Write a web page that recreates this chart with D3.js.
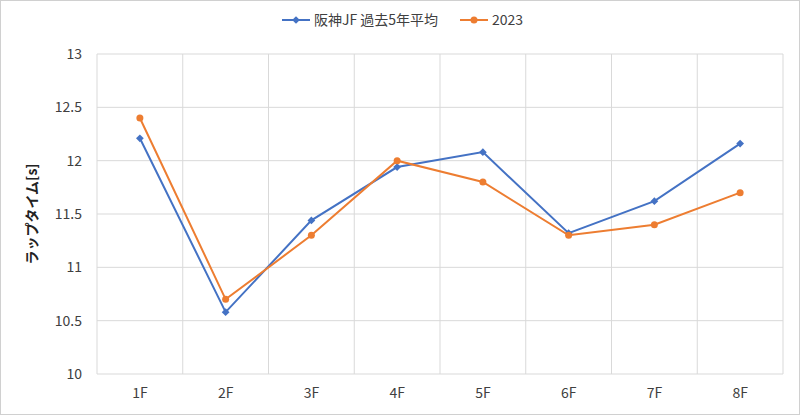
<!DOCTYPE html><html><head><meta charset="utf-8"><script src="https://d3js.org/d3.v7.min.js"></script>
<style>body{margin:0}</style></head><body><svg width="800" height="415"></svg><script>
const categories=["1F","2F","3F","4F","5F","6F","7F","8F"];
const avg=[12.21,10.58,11.44,11.94,12.08,11.32,11.62,12.16];
const y2023=[12.4,10.7,11.3,12.0,11.8,11.3,11.4,11.7];
const yTicks=[10,10.5,11,11.5,12,12.5,13];
const names=["阪神JF 過去5年平均","2023"];
const colors=["#4472c4","#ed7d31"];
const svg=d3.select("svg");
const font="'Noto Sans CJK JP','Noto Sans',sans-serif";
svg.append("rect").attr("x",0.5).attr("y",0.5).attr("width",799).attr("height",414).attr("fill","#fff").attr("stroke","#d0d0d0");
const x=d3.scaleBand().domain(categories).range([97,783]);
const y=d3.scaleLinear().domain([10,13]).range([374,54]);
const g=svg.append("g");
g.selectAll(".h").data(yTicks).join("line").attr("x1",97).attr("x2",783).attr("y1",d=>y(d)).attr("y2",d=>y(d)).attr("stroke","#d9d9d9");
g.selectAll(".v").data(categories.slice(1)).join("line").attr("x1",d=>x(d)).attr("x2",d=>x(d)).attr("y1",54).attr("y2",374).attr("stroke","#d9d9d9");
g.append("line").attr("x1",783).attr("x2",783).attr("y1",54).attr("y2",374).attr("stroke","#d9d9d9");
g.append("line").attr("x1",97).attr("x2",97).attr("y1",54).attr("y2",374).attr("stroke","#d9d9d9");
g.selectAll(".yl").data(yTicks).join("text").attr("x",82).attr("y",d=>y(d)+5).attr("text-anchor","end").attr("font-size",14).attr("font-family",font).attr("fill","#404040").text(d=>d);
g.selectAll(".xl").data(categories).join("text").attr("x",d=>x(d)+x.bandwidth()/2).attr("y",398).attr("text-anchor","middle").attr("font-size",14).attr("font-family",font).attr("fill","#404040").text(d=>d);
svg.append("text").attr("transform","translate(37,214) rotate(-90)").attr("text-anchor","middle").attr("font-size",14).attr("font-weight","bold").attr("font-family",font).attr("fill","#222").text("ラップタイム[s]");
const line=d3.line().x((d,i)=>x(categories[i])+x.bandwidth()/2).y(d=>y(d));
const diamond=d3.symbol(d3.symbolSquare,30)();
[avg,y2023].forEach((s,k)=>{
 svg.append("path").attr("d",line(s)).attr("fill","none").attr("stroke",colors[k]).attr("stroke-width",2);
 const m=svg.selectAll(null).data(s).join(k==0?"path":"circle");
 if(k==0) m.attr("d",diamond).attr("transform",(d,i)=>`translate(${x(categories[i])+x.bandwidth()/2},${y(d)}) rotate(45)`).attr("fill",colors[k]);
 else m.attr("cx",(d,i)=>x(categories[i])+x.bandwidth()/2).attr("cy",d=>y(d)).attr("r",3.5).attr("fill",colors[k]);
});
const lx=[282,460];
names.forEach((n,k)=>{
 svg.append("line").attr("x1",lx[k]).attr("x2",lx[k]+28).attr("y1",20).attr("y2",20).attr("stroke",colors[k]).attr("stroke-width",2);
 if(k==0) svg.append("path").attr("d",diamond).attr("transform",`translate(${lx[k]+14},20) rotate(45)`).attr("fill",colors[k]);
 else svg.append("circle").attr("cx",lx[k]+14).attr("cy",20).attr("r",3.5).attr("fill",colors[k]);
 svg.append("text").attr("x",lx[k]+32).attr("y",25).attr("font-size",14).attr("font-family",font).attr("fill","#404040").text(n);
});
</script></body></html>
